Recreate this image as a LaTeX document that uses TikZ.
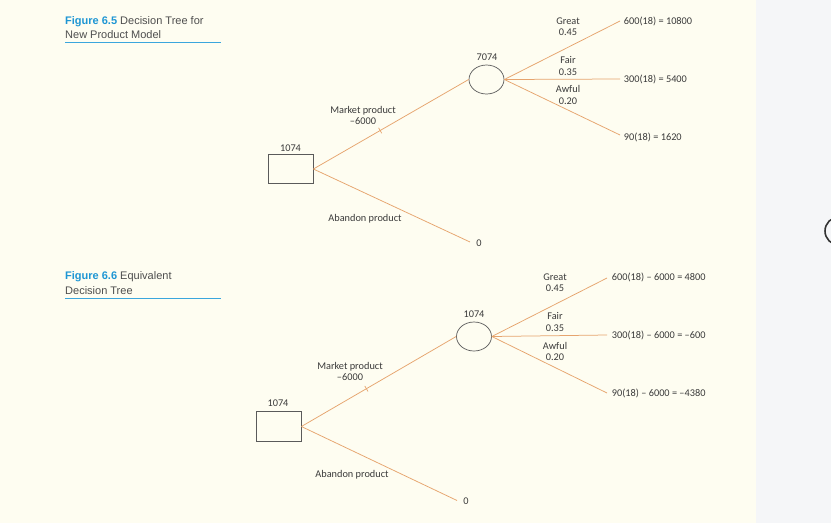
\documentclass[tikz,border=0pt]{standalone}
\usepackage{fontspec}
\setmainfont{Carlito}
\newfontfamily\capfont{Liberation Sans}
\usetikzlibrary{shapes.geometric,calc}
\definecolor{bgcream}{HTML}{FEFDF1}
\definecolor{bggray}{HTML}{F5F6F8}
\definecolor{capblue}{HTML}{1E96D4}
\definecolor{ruleblue}{HTML}{3BA6DD}
\definecolor{branch}{HTML}{E6A46E}
\definecolor{txt}{HTML}{3A3A3A}
\definecolor{outline}{HTML}{5A5A5A}
\tikzset{
  lbl/.style={font=\fontsize{10.3}{12}\selectfont, text=txt, inner sep=0, anchor=base},
  pay/.style={font=\fontsize{10.3}{12}\selectfont, text=txt, inner sep=0, anchor=base west},
  captext/.style={font=\capfont\fontsize{11}{13}\selectfont, text=txt!90, inner sep=0, anchor=base west},
  decbox/.style={draw=outline, line width=0.8pt, rectangle, minimum width=45pt, minimum height=29.5pt, inner sep=0},
  chance/.style={draw=outline, line width=0.7pt, ellipse, minimum width=35pt, minimum height=29pt, inner sep=0},
  br/.style={draw=branch, line width=0.75pt},
  tickm/.style={draw=branch, line width=0.7pt},
  caprule/.style={draw=ruleblue, line width=0.8pt}
}
\begin{document}
\begin{tikzpicture}[x=1pt,y=-1pt]
\useasboundingbox (0,0) rectangle (831,523);
\begin{scope}
\clip (0,0) rectangle (831,523);
\fill[bgcream] (0,0) rectangle (756,523);
\fill[bggray] (756,0) rectangle (831,523);
\draw[line width=1.6pt, black!80] (839,231) circle (14);
\end{scope}

% ---------- Figure 6.5 ----------
\node[captext] (c1a) at (65,24) {\textbf{\color{capblue}Figure 6.5} Decision Tree for};
\node[captext] (c1b) at (65,38.3) {New Product Model};
\coordinate (r1a) at (65,42);
\coordinate (r1b) at (221,42);
\draw[caprule] (r1a) -- (r1b);

\node[decbox] (d1) at (290.5,169) {};
\node[lbl] (d1v) at (290.5,151) {1074};
\node[chance] (e1) at (486.5,79.5) {};
\node[lbl] (e1v) at (487,60.7) {7074};

\coordinate (a1end) at (470,242);
\node[lbl] (a1z) at (479,246.7) {0};
\draw[br] (d1.east) -- coordinate[pos=0.43] (t1) (e1.west);
\draw[tickm] ($(t1)!3.2pt!90:(e1.west)$) -- ($(t1)!3.2pt!-90:(e1.west)$);
\draw[br] (d1.east) -- (a1end);
\node[lbl] (m1a) at (363,113.3) {Market product};
\node[lbl] (m1b) at (363,124) {–6000};
\node[lbl] (ab1) at (365,221.7) {Abandon product};

\coordinate (g1) at (620,21);
\coordinate (f1) at (620,79);
\coordinate (w1) at (620,135);
\draw[br] (e1.east) -- (g1);
\draw[br] (e1.east) -- (f1);
\draw[br] (e1.east) -- (w1);
\node[lbl] (g1l) at (568,24.3) {Great};
\node[lbl] (g1p) at (568,35.7) {0.45};
\node[lbl] (f1l) at (568,63.3) {Fair};
\node[lbl] (f1p) at (568,75) {0.35};
\node[lbl] (w1l) at (568,92.3) {Awful};
\node[lbl] (w1p) at (568,104) {0.20};
\node[pay] (g1v) at (623.7,24.3) {600(18) = 10800};
\node[pay] (f1v) at (623.7,82.3) {300(18) = 5400};
\node[pay] (w1v) at (623.7,140) {90(18) = 1620};

% ---------- Figure 6.6 ----------
\node[captext] (c2a) at (65,279.5) {\textbf{\color{capblue}Figure 6.6} Equivalent};
\node[captext] (c2b) at (65,294) {Decision Tree};
\coordinate (r2a) at (65,298);
\coordinate (r2b) at (221,298);
\draw[caprule] (r2a) -- (r2b);

\node[decbox] (d2) at (278.5,426.5) {};
\node[lbl] (d2v) at (278,406.7) {1074};
\node[chance] (e2) at (474,336.5) {};
\node[lbl] (e2v) at (474,317.3) {1074};

\coordinate (a2end) at (457,500.5);
\node[lbl] (a2z) at (466,504) {0};
\draw[br] (d2.east) -- coordinate[pos=0.42] (t2) (e2.west);
\draw[tickm] ($(t2)!3.2pt!90:(e2.west)$) -- ($(t2)!3.2pt!-90:(e2.west)$);
\draw[br] (d2.east) -- (a2end);
\node[lbl] (m2a) at (350,369.3) {Market product};
\node[lbl] (m2b) at (350,380.7) {–6000};
\node[lbl] (ab2) at (352,477.3) {Abandon product};

\coordinate (g2) at (607,278);
\coordinate (f2) at (607,335);
\coordinate (w2) at (607,393);
\draw[br] (e2.east) -- (g2);
\draw[br] (e2.east) -- (f2);
\draw[br] (e2.east) -- (w2);
\node[lbl] (g2l) at (555,280) {Great};
\node[lbl] (g2p) at (555,291.7) {0.45};
\node[lbl] (f2l) at (555,319.3) {Fair};
\node[lbl] (f2p) at (555,331) {0.35};
\node[lbl] (w2l) at (555,349) {Awful};
\node[lbl] (w2p) at (555,360.3) {0.20};
\node[pay] (g2v) at (611.7,280.7) {600(18) – 6000 = 4800};
\node[pay] (f2v) at (611.7,338) {300(18) – 6000 = –600};
\node[pay] (w2v) at (611.7,396) {90(18) – 6000 = –4380};
\end{tikzpicture}
\end{document}
